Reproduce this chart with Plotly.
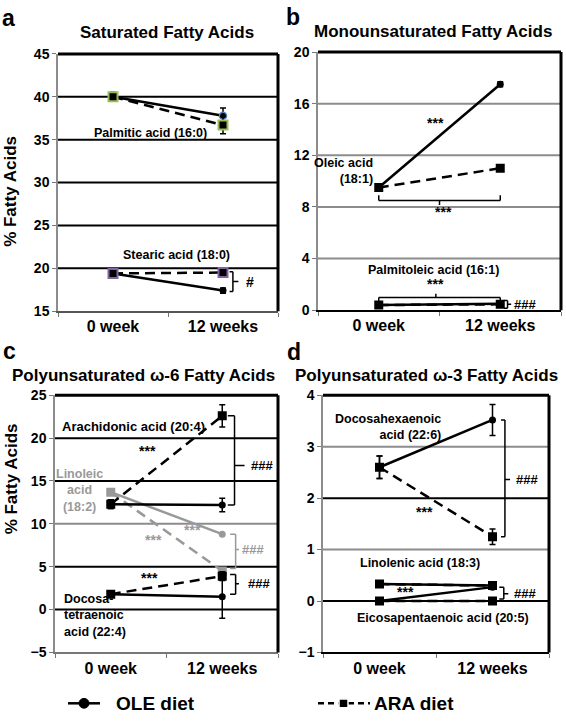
import plotly.graph_objects as go

W, H = 566, 725
FONT = "Liberation Sans, Arial, Helvetica, sans-serif"

# ---------------- data ----------------
weeks = ["0 week", "12 weeks"]

palmitic_ole = [40.0, 37.8]; palmitic_ole_err = [0.5, 0.9]
palmitic_ara = [40.0, 36.7]; palmitic_ara_err = [0.5, 1.0]
stearic_ole = [19.4, 17.4]; stearic_ole_err = [0.2, 0.3]
stearic_ara = [19.4, 19.5]; stearic_ara_err = [0.2, 0.3]

oleic_ole = [9.5, 17.5]; oleic_ole_err = [0.2, 0.2]
oleic_ara = [9.5, 11.0]; oleic_ara_err = [0.2, 0.2]
palmitoleic_ole = [0.4, 0.5]
palmitoleic_ara = [0.4, 0.45]

arachidonic_ole = [12.3, 12.2]; arachidonic_ole_err = [0.5, 0.8]
arachidonic_ara = [12.3, 22.6]; arachidonic_ara_err = [0.5, 1.3]
linoleic_ole = [13.7, 8.8]
linoleic_ara = [13.7, 4.5]
docosatetraenoic_ole = [1.8, 1.5]; docosatetraenoic_ole_err = [0.2, 2.5]
docosatetraenoic_ara = [1.8, 3.9]; docosatetraenoic_ara_err = [0.2, 0.5]

dha_ole = [2.6, 3.52]; dha_ole_err = [0.22, 0.3]
dha_ara = [2.6, 1.25]; dha_ara_err = [0.22, 0.15]
linolenic_ole = [0.33, 0.30]
linolenic_ara = [0.33, 0.30]
epa_ole = [0.0, 0.27]
epa_ara = [0.0, 0.0]

panel_letters = ["a", "b", "c", "d"]
panel_titles = ["Saturated Fatty Acids", "Monounsaturated Fatty Acids",
                "Polyunsaturated ω-6 Fatty Acids", "Polyunsaturated ω-3 Fatty Acids"]
y_ranges = [[15, 45], [0, 20], [-5, 25], [-1, 4]]
y_dticks = [5, 4, 5, 1]
grid_values = [[20, 25, 30, 35, 40], [4, 8, 12, 16], [0, 5, 10, 15, 20], [0, 1, 2, 3]]
grid_colors = [["black"] * 5, ["#8c8c8c"] * 4,
               ["black", "black", "#8c8c8c", "black", "black"],
               ["black", "#8c8c8c", "black", "#8c8c8c"]]
y_title = "% Fatty Acids"
legend_names = ["OLE diet", "ARA diet"]

# ---------------- layout geometry (pixels) ----------------
boxes = [  # left, right, top, bottom
    (58, 278, 47, 310),
    (318, 561, 45, 309),
    (55, 278, 396, 659),
    (323, 549, 396, 659),
]
bottom_colors = ["#555555", "black", "#777777", "black"]


def px(x):
    return x / W


def py(y):
    return 1 - y / H


fig = go.Figure()

DASH = "10px,6px"
GRAY = "#999999"


def err(arr):
    return dict(type="data", array=arr, color="black", thickness=1.5, width=3, visible=True)


def add(n, y, ole=True, color="black", e=None, mline=None, mlw=0):
    suffix = "" if n == 1 else str(n)
    fig.add_trace(go.Scatter(
        x=weeks, y=y, xaxis="x" + suffix, yaxis="y" + suffix,
        mode="lines+markers",
        name=legend_names[0] if ole else legend_names[1],
        showlegend=False,
        line=dict(color=color, width=2.5, dash="solid" if ole else DASH),
        marker=dict(symbol="circle" if ole else "square", size=7 if ole else 9, color=color,
                    line=dict(color=mline if mline else color, width=mlw)),
        error_y=err(e) if e is not None else dict(visible=False),
        hoverinfo="skip",
    ))


# panel a
add(1, palmitic_ole, True, e=palmitic_ole_err, mline=["black", "#4F81BD"], mlw=1.5)
add(1, palmitic_ara, False, e=palmitic_ara_err, mline="#9BBB59", mlw=2)
add(1, stearic_ole, True, e=stearic_ole_err)
add(1, stearic_ara, False, e=stearic_ara_err, mline="#8064A2", mlw=2)
# panel b
add(2, palmitoleic_ole, True)
add(2, palmitoleic_ara, False)
add(2, oleic_ole, True, e=oleic_ole_err)
add(2, oleic_ara, False, e=oleic_ara_err)
# panel c
add(3, linoleic_ole, True, color=GRAY)
add(3, linoleic_ara, False, color=GRAY)
add(3, docosatetraenoic_ole, True, e=docosatetraenoic_ole_err)
add(3, docosatetraenoic_ara, False, e=docosatetraenoic_ara_err)
add(3, arachidonic_ole, True, e=arachidonic_ole_err)
add(3, arachidonic_ara, False, e=arachidonic_ara_err)
# panel d
add(4, epa_ole, True)
add(4, epa_ara, False)
add(4, linolenic_ole, True)
add(4, linolenic_ara, False)
add(4, dha_ole, True, e=dha_ole_err)
add(4, dha_ara, False, e=dha_ara_err)

shapes = []
annotations = []

tick_font = dict(family=FONT, size=14, color="black", weight="bold")
xtick_font = dict(family=FONT, size=16, color="black", weight="bold")

title_x = [167, 433, 143, 426]
title_y = [25, 24, 376, 376]
title_size = [17, 17, 17, 17]
letter_x = [8, 293, 9, 294]
letter_y = [10, 9, 351, 352]

for i in range(4):
    n = i + 1
    suffix = "" if n == 1 else str(n)
    l, r, t, b = boxes[i]
    fig.update_layout(**{
        "xaxis" + suffix: dict(
            domain=[px(l), px(r)], type="category", categoryorder="array", categoryarray=weeks,
            range=[-0.5, 1.5], tickson="boundaries", ticks="outside", ticklen=4,
            tickcolor="#777777", showline=True, linecolor=bottom_colors[i],
            linewidth=2, showgrid=False, zeroline=False, tickfont=xtick_font,
            anchor="y" + suffix, fixedrange=True),
        "yaxis" + suffix: dict(
            domain=[py(b), py(t)], range=y_ranges[i], dtick=y_dticks[i], ticks="outside", ticklen=4,
            tickcolor="#777777", showline=True, linecolor="#8c8c8c", linewidth=1.5,
            showgrid=False, zeroline=False, tickfont=tick_font, anchor="x" + suffix,
            fixedrange=True),
    })
    xr = "x" + suffix
    yr = "y" + suffix
    for v, c in zip(grid_values[i], grid_colors[i]):
        shapes.append(dict(type="line", xref=xr + " domain", yref=yr, x0=0, x1=1, y0=v, y1=v,
                           line=dict(color=c, width=2), layer="below"))
    shapes.append(dict(type="line", xref=xr + " domain", yref=yr + " domain", x0=0, x1=1,
                       y0=1, y1=1, line=dict(color="black", width=3), layer="above"))
    shapes.append(dict(type="line", xref=xr + " domain", yref=yr + " domain", x0=1, x1=1,
                       y0=0, y1=1, line=dict(color="black", width=3), layer="above"))
    annotations.append(dict(text=panel_letters[i], xref="paper", yref="paper",
                            x=px(letter_x[i]), y=py(letter_y[i]), showarrow=False,
                            font=dict(family=FONT, size=23, color="black", weight="bold"),
                            xanchor="center", yanchor="middle"))
    annotations.append(dict(text=panel_titles[i], xref="paper", yref="paper",
                            x=px(title_x[i]), y=py(title_y[i]), showarrow=False,
                            font=dict(family=FONT, size=title_size[i], color="black", weight="bold"),
                            xanchor="center", yanchor="middle"))

for yc in (188, 482):
    annotations.append(dict(text=y_title, xref="paper", yref="paper", x=px(11), y=py(yc),
                            textangle=-90, showarrow=False,
                            font=dict(family=FONT, size=17, color="black", weight="bold"),
                            xanchor="center", yanchor="middle"))


def txt(n, text, x, y, size=12.5, color="black", xanchor="center", align="center"):
    suffix = "" if n == 1 else str(n)
    annotations.append(dict(text=text, xref="x" + suffix, yref="y" + suffix, x=x, y=y,
                            showarrow=False, xanchor=xanchor, yanchor="middle", align=align,
                            font=dict(family=FONT, size=size, color=color, weight="bold")))


def seg(n, x0, y0, x1, y1, color="black", width=1.5):
    suffix = "" if n == 1 else str(n)
    shapes.append(dict(type="line", xref="x" + suffix, yref="y" + suffix, x0=x0, y0=y0, x1=x1, y1=y1,
                       line=dict(color=color, width=width), layer="above"))


def vbracket(n, xs, xv, ytop, ybot, xt, ymid, color="black"):
    seg(n, xs, ytop, xv, ytop, color)
    seg(n, xv, ytop, xv, ybot, color)
    seg(n, xs, ybot, xv, ybot, color)
    seg(n, xv, ymid, xt, ymid, color)


def hbracket(n, x0, x1, y, yend, xm, ytick, color="black"):
    seg(n, x0, y, x1, y, color)
    seg(n, x0, y, x0, yend, color)
    seg(n, x1, y, x1, yend, color)
    seg(n, xm, y, xm, ytick, color)


# panel a annotations
txt(1, "Palmitic acid (16:0)", 0.34, 35.8)
txt(1, "Stearic acid (18:0)", 0.58, 21.6)
vbracket(1, 1.06, 1.09, 19.6, 17.3, 1.14, 18.45)
txt(1, "#", 1.19, 18.4, size=14, xanchor="left")

# panel b annotations
txt(2, "***", 0.47, 14.5, size=14)
txt(2, "Oleic acid<br>(18:1)", -0.03, 10.8, xanchor="right", align="right")
hbracket(2, 0.0, 1.0, 8.5, 8.9, 0.5, 8.15)
txt(2, "***", 0.53, 7.6, size=14)
txt(2, "Palmitoleic acid (16:1)", 0.45, 3.15)
txt(2, "***", 0.47, 2.0, size=14)
hbracket(2, 0.0, 1.0, 0.98, 0.55, 0.47, 1.28)
vbracket(2, 1.03, 1.06, 0.75, 0.15, 1.09, 0.45)
txt(2, "###", 1.1, 0.45, size=13, xanchor="left")

# panel c annotations
txt(3, "Arachidonic acid (20:4)", 0.2, 21.4, size=13)
txt(3, "***", 0.33, 18.5, size=14)
txt(3, "Linoleic<br>acid<br>(18:2)", -0.28, 13.9, color=GRAY)
vbracket(3, 1.05, 1.11, 22.6, 12.2, 1.2, 16.8)
txt(3, "###", 1.24, 16.8, size=13, xanchor="left")
txt(3, "***", 0.38, 8.1, size=14, color=GRAY)
txt(3, "***", 0.73, 9.3, size=14, color=GRAY)
vbracket(3, 1.07, 1.12, 8.8, 4.8, 1.15, 7.0, color=GRAY)
txt(3, "###", 1.155, 7.0, size=13, color=GRAY, xanchor="left")
txt(3, "***", 0.35, 3.7, size=14)
vbracket(3, 1.07, 1.12, 4.1, 1.8, 1.15, 3.0)
txt(3, "###", 1.21, 3.0, size=13, xanchor="left")
txt(3, "Docosa-<br>tetraenoic<br>acid (22:4)", -0.44, -0.7, xanchor="left", align="left")

# panel d annotations
txt(4, "Docosahexaenoic<br>acid (22:6)", 0.56, 3.39, xanchor="right", align="right")
vbracket(4, 1.075, 1.11, 3.52, 1.25, 1.155, 2.36)
txt(4, "###", 1.19, 2.36, size=13, xanchor="left")
txt(4, "***", 0.4, 1.73, size=14)
txt(4, "Linolenic acid (18:3)", 0.36, 0.74)
txt(4, "***", 0.23, 0.17, size=14)
vbracket(4, 1.06, 1.1, 0.27, 0.04, 1.14, 0.14)
txt(4, "###", 1.17, 0.14, size=13, xanchor="left")
txt(4, "Eicosapentaenoic acid (20:5)", 0.56, -0.33)

# ---------------- legend (drawn in paper space) ----------------
LY = 711
shapes.append(dict(type="line", xref="paper", yref="paper", x0=px(68), x1=px(100), y0=py(LY), y1=py(LY),
                   line=dict(color="black", width=2.5)))
shapes.append(dict(type="circle", xref="paper", yref="paper", x0=px(79), x1=px(89), y0=py(LY + 5), y1=py(LY - 5),
                   fillcolor="black", line=dict(color="black", width=1)))
annotations.append(dict(text=legend_names[0], xref="paper", yref="paper", x=px(114), y=py(LY),
                        xanchor="left", yanchor="middle", showarrow=False,
                        font=dict(family=FONT, size=19, color="black", weight="bold")))
shapes.append(dict(type="line", xref="paper", yref="paper", x0=px(318), x1=px(370), y0=py(LY), y1=py(LY),
                   line=dict(color="black", width=2.5, dash="6px,4px")))
shapes.append(dict(type="rect", xref="paper", yref="paper", x0=px(339), x1=px(348), y0=py(LY + 4.5), y1=py(LY - 4.5),
                   fillcolor="black", line=dict(color="white", width=1.5)))
annotations.append(dict(text=legend_names[1], xref="paper", yref="paper", x=px(372), y=py(LY),
                        xanchor="left", yanchor="middle", showarrow=False,
                        font=dict(family=FONT, size=19, color="black", weight="bold")))

fig.update_layout(
    width=W, height=H, margin=dict(l=0, r=0, t=0, b=0),
    paper_bgcolor="white", plot_bgcolor="white",
    shapes=shapes, annotations=annotations,
    showlegend=False,
)

fig.write_html("out.html", config={"displayModeBar": False},
               post_script="document.body.style.margin='0px';")
